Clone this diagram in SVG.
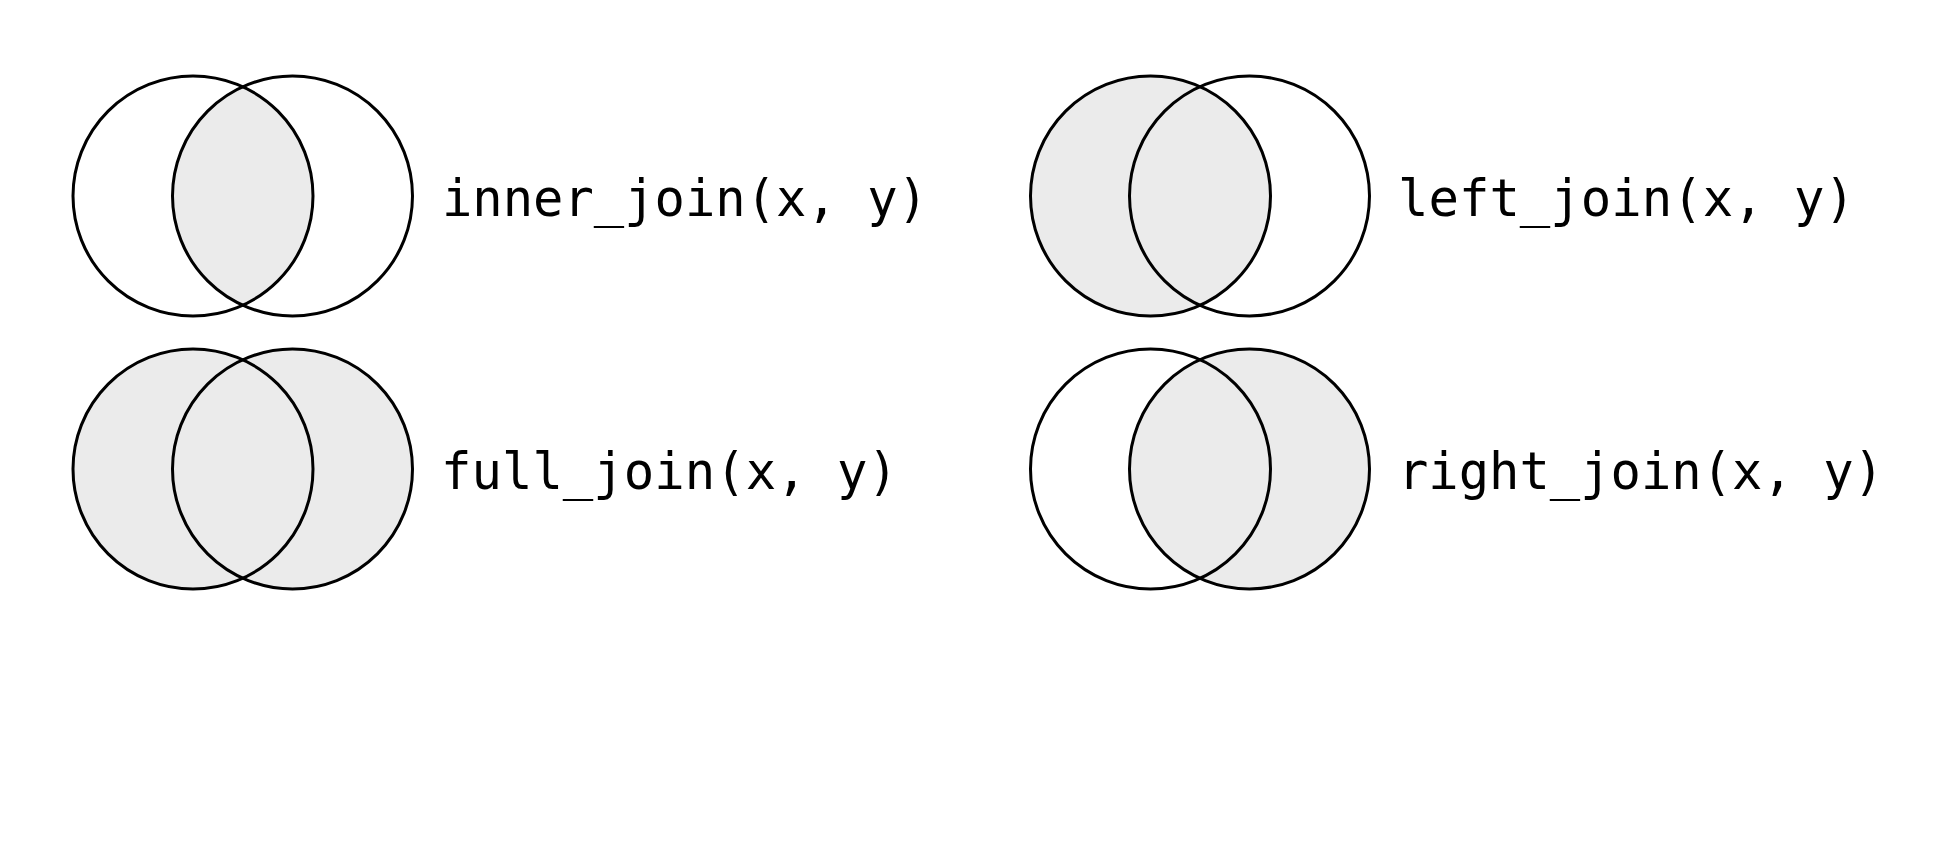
<svg xmlns="http://www.w3.org/2000/svg" width="1952" height="852" viewBox="0 0 1952 852">
<style>
.c{fill:none;stroke:#000;stroke-width:3}
.f{fill:#ebebeb;stroke:none}
.t{font-family:"DejaVu Sans Mono","Liberation Mono",monospace;font-size:51px;fill:#000}
</style>
<defs>
<clipPath id="clipA1"><circle cx="193" cy="196" r="120"/></clipPath>
<clipPath id="clipA2"><circle cx="1150.5" cy="196" r="120"/></clipPath>
</defs>
<rect width="1952" height="852" fill="#fff"/>
<g id="inner">
<circle class="f" cx="292.5" cy="196" r="120" clip-path="url(#clipA1)"/>
<circle class="c" cx="193" cy="196" r="120"/>
<circle class="c" cx="292.5" cy="196" r="120"/>
<text class="t" x="442" y="216" textLength="486" lengthAdjust="spacingAndGlyphs">inner_join(x, y)</text>
</g>
<g id="left">
<circle class="f" cx="1150.5" cy="196" r="120"/>
<circle class="f" cx="1249.5" cy="196" r="120" clip-path="url(#clipA2)"/>
<circle class="c" cx="1150.5" cy="196" r="120"/>
<circle class="c" cx="1249.5" cy="196" r="120"/>
<text class="t" x="1398" y="216" textLength="457" lengthAdjust="spacingAndGlyphs">left_join(x, y)</text>
</g>
<g id="full">
<circle class="f" cx="193" cy="469" r="120"/>
<circle class="f" cx="292.5" cy="469" r="120"/>
<circle class="c" cx="193" cy="469" r="120"/>
<circle class="c" cx="292.5" cy="469" r="120"/>
<text class="t" x="441" y="489" textLength="457" lengthAdjust="spacingAndGlyphs">full_join(x, y)</text>
</g>
<g id="right">
<circle class="f" cx="1249.5" cy="469" r="120"/>
<circle class="c" cx="1150.5" cy="469" r="120"/>
<circle class="c" cx="1249.5" cy="469" r="120"/>
<text class="t" x="1398" y="489" textLength="486" lengthAdjust="spacingAndGlyphs">right_join(x, y)</text>
</g>
<g id="connectors"></g>
</svg>
